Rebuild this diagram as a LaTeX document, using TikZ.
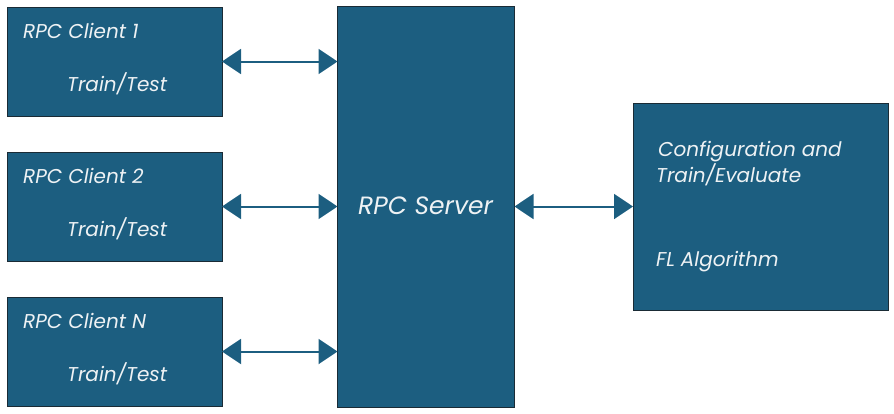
\documentclass[tikz,border=0pt]{standalone}
\usepackage{fontspec}
\setmainfont{Poppins}
\usetikzlibrary{arrows.meta, positioning}
\definecolor{boxblue}{HTML}{1C5E80}
\definecolor{boxline}{HTML}{1A2B35}
\definecolor{txtgray}{HTML}{EEF2F4}

\begin{document}
\begin{tikzpicture}[
  x=1pt, y=-1pt,
  box/.style={draw=boxline, line width=1pt, fill=boxblue, inner sep=0pt, outer sep=0pt},
  client/.style={box, minimum width=215pt, minimum height=109pt},
  txt/.style={text=txtgray, font=\fontsize{20}{24}\selectfont\itshape, inner sep=0pt, anchor=base west},
  bigtxt/.style={txt, font=\fontsize{25}{30}\selectfont\itshape},
  link/.style={draw=boxblue, line width=2pt, {Triangle[length=19pt, width=25pt]}-{Triangle[length=19pt, width=25pt]}}
]
  \useasboundingbox (0,0) rectangle (894,413);

  % clients
  \node[client] (c1) at (114.5,61.5) {};
  \node[client] (c2) at (114.5,206.5) {};
  \node[client] (cn) at (114.5,351.5) {};
  \node[txt] (c1name) at (23,38) {RPC Client 1};
  \node[txt] (c1task) at (67,91) {Train/Test};
  \node[txt] (c2name) at (23,183) {RPC Client 2};
  \node[txt] (c2task) at (67,236) {Train/Test};
  \node[txt] (cnname) at (23,328) {RPC Client N};
  \node[txt] (cntask) at (67,381) {Train/Test};

  % server
  \node[box, minimum width=177pt, minimum height=401pt] (server) at (426,206.5) {};
  \node[bigtxt] (srvname) at (358,214) {RPC Server};

  % configuration
  \node[box, minimum width=255pt, minimum height=207pt] (config) at (760.5,206.5) {};
  \node[txt] (cfg1) at (658,156) {Configuration and};
  \node[txt] (cfg2) at (656,182) {Train/Evaluate};
  \node[txt] (algo) at (656,266) {FL Algorithm};

  \draw[link] (c1.east) -- (c1.east -| server.west);
  \draw[link] (c2.east) -- (c2.east -| server.west);
  \draw[link] (cn.east) -- (cn.east -| server.west);
  \draw[link] (server.east) -- (config.west);
\end{tikzpicture}
\end{document}
